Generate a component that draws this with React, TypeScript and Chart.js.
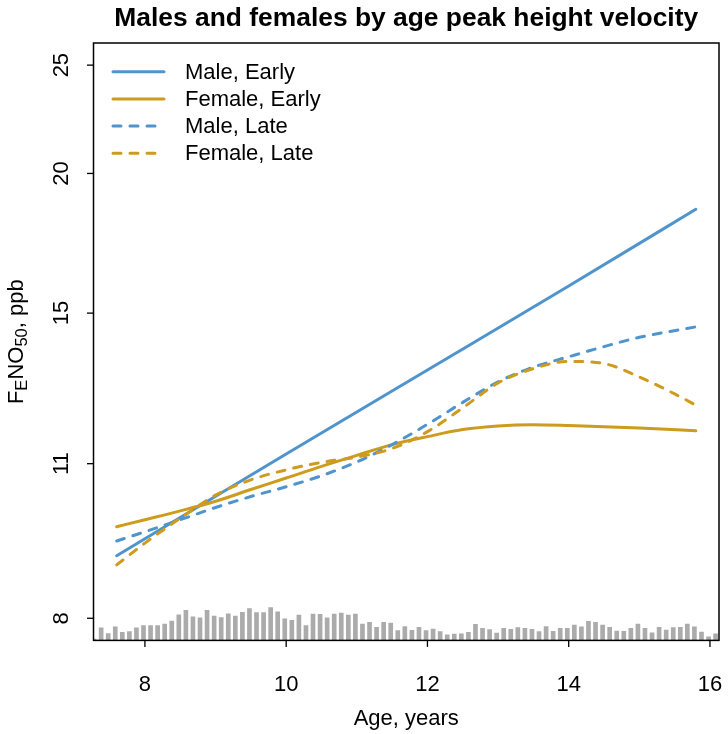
import React, { useEffect, useRef } from 'react';
import { Chart, registerables } from 'chart.js';

Chart.register(...registerables);

// ---------- text ----------
const TITLE = 'Males and females by age peak height velocity';
const X_TITLE = 'Age, years';
const legendLabels = ['Male, Early', 'Female, Early', 'Male, Late', 'Female, Late'];

// ---------- ticks ----------
const xTicks = [8, 10, 12, 14, 16];
const yTicks = [8, 11, 15, 20, 25];

// ---------- curves (age, FeNO50 ppb) ----------
const maleEarlyAge = [7.6, 10, 12, 14, 15.8];
const maleEarlyVal = [9.1, 11.22, 13.34, 15.86, 18.58];

const femaleEarlyAge = [7.6, 8.0, 8.5, 9.0, 9.5, 10, 10.5, 11, 11.5, 12, 12.5, 13, 13.5, 14, 15, 15.8];
const femaleEarlyVal = [9.66, 9.8, 9.98, 10.18, 10.43, 10.68, 10.94, 11.19, 11.44, 11.63, 11.8, 11.89, 11.92, 11.9, 11.84, 11.77];

const maleLateAge = [7.6, 8, 8.5, 9, 9.5, 10, 10.5, 11, 11.5, 12, 12.5, 13, 13.5, 14, 14.5, 15, 15.8];
const maleLateVal = [9.38, 9.56, 9.8, 10.05, 10.28, 10.49, 10.73, 11.04, 11.44, 11.93, 12.48, 13.02, 13.42, 13.71, 14.0, 14.27, 14.58];

const femaleLateAge = [7.6, 8, 8.5, 9, 9.5, 10, 10.5, 11, 11.5, 12, 12.5, 13, 13.5, 14, 14.5, 15, 15.5, 15.8];
const femaleLateVal = [8.93, 9.34, 9.83, 10.31, 10.64, 10.86, 11.03, 11.15, 11.35, 11.75, 12.34, 12.99, 13.38, 13.58, 13.52, 13.15, 12.7, 12.41];

// ---------- age distribution histogram (bin centre, relative count) ----------
const histAge = [
  7.28, 7.38, 7.48, 7.58, 7.68, 7.78, 7.88, 7.98, 8.08, 8.18,
  8.28, 8.38, 8.48, 8.58, 8.68, 8.78, 8.88, 8.98, 9.08, 9.18,
  9.28, 9.38, 9.48, 9.58, 9.68, 9.78, 9.88, 9.98, 10.08, 10.18,
  10.28, 10.38, 10.48, 10.58, 10.68, 10.78, 10.88, 10.98, 11.08, 11.18,
  11.28, 11.38, 11.48, 11.58, 11.68, 11.78, 11.88, 11.98, 12.08, 12.18,
  12.28, 12.38, 12.48, 12.58, 12.68, 12.78, 12.88, 12.98, 13.08, 13.18,
  13.28, 13.38, 13.48, 13.58, 13.68, 13.78, 13.88, 13.98, 14.08, 14.18,
  14.28, 14.38, 14.48, 14.58, 14.68, 14.78, 14.88, 14.98, 15.08, 15.18,
  15.28, 15.38, 15.48, 15.58, 15.68, 15.78, 15.88, 15.98, 16.08,
];
const histCount = [
  1.7, 12.3, 7, 13.3, 8, 8.7, 12.3, 14.7, 14.7, 14.7,
  16, 19, 25, 29.3, 23, 22, 29.3, 23.7, 22.3, 26,
  23.7, 27.3, 31, 27, 27, 32, 27.7, 21, 19.7, 24.7,
  14.7, 25.7, 25.3, 22, 25.7, 26.7, 24.7, 25.7, 16, 17.7,
  13, 17.7, 17, 9.7, 13.7, 10, 13, 9.7, 11.3, 8.7,
  5.7, 6.3, 6.7, 8, 15.7, 12, 10.7, 7.3, 12, 11,
  12.7, 12, 11, 8.7, 13.7, 9, 12, 12, 15, 13.3,
  18.7, 17.7, 15, 13, 9.3, 9, 12, 16, 12, 7.7,
  13, 10.3, 12.7, 13, 16, 13.3, 8.3, 3.7, 6.7,
];

// ---------- style ----------
const BLUE = '#4F94CD';
const GOLD = '#CD9B1D';
const GRAY = '#ABABAB';
const FONT = '"Liberation Sans", Arial, Helvetica, sans-serif';
const W = 728;
const H = 734;
const PAD = { left: 93.5, right: 9, top: 43, bottom: 93.6 };
const DASH = [8, 9];
const LW = 3;

// axis limits: data range extended by 4% on each side
const X_LO = 7.6, X_HI = 15.8;
const X_MIN = X_LO - 0.04 * (X_HI - X_LO);
const X_MAX = X_HI + 0.04 * (X_HI - X_LO);
const lnLo = Math.log(8), lnHi = Math.log(25);
const Y_MIN = Math.exp(lnLo - 0.04 * (lnHi - lnLo));
const Y_MAX = Math.exp(lnHi + 0.04 * (lnHi - lnLo));

const pts = (a: number[], v: number[]) => a.map((x, i) => ({ x, y: v[i] }));

const series = [
  { label: legendLabels[0], age: maleEarlyAge, val: maleEarlyVal, color: BLUE, dashed: false, order: 4 },
  { label: legendLabels[1], age: femaleEarlyAge, val: femaleEarlyVal, color: GOLD, dashed: false, order: 3 },
  { label: legendLabels[2], age: maleLateAge, val: maleLateVal, color: BLUE, dashed: true, order: 2 },
  { label: legendLabels[3], age: femaleLateAge, val: femaleLateVal, color: GOLD, dashed: true, order: 1 },
];

const overlay = {
  id: 'overlay',
  afterDraw(chart: any) {
    const ctx: CanvasRenderingContext2D = chart.ctx;
    const a = chart.chartArea;
    const xs = chart.scales.x;
    const ys = chart.scales.y;
    ctx.save();
    // box
    ctx.strokeStyle = '#000';
    ctx.lineWidth = 1.5;
    ctx.setLineDash([]);
    ctx.strokeRect(a.left, a.top, a.right - a.left, a.bottom - a.top);
    // x ticks
    ctx.lineWidth = 1.3;
    ctx.fillStyle = '#000';
    ctx.font = `22px ${FONT}`;
    ctx.textAlign = 'center';
    ctx.textBaseline = 'alphabetic';
    xTicks.forEach((t) => {
      const px = xs.getPixelForValue(t);
      ctx.beginPath();
      ctx.moveTo(px, a.bottom);
      ctx.lineTo(px, a.bottom + 6.5);
      ctx.stroke();
      ctx.fillText(String(t), px, 691);
    });
    // y ticks
    yTicks.forEach((t) => {
      const py = ys.getPixelForValue(t);
      ctx.beginPath();
      ctx.moveTo(a.left, py);
      ctx.lineTo(a.left - 6.5, py);
      ctx.stroke();
      ctx.save();
      ctx.translate(67.5, py);
      ctx.rotate(-Math.PI / 2);
      ctx.fillText(String(t), 0, 0);
      ctx.restore();
    });
    // x title
    ctx.fillText(X_TITLE, (a.left + a.right) / 2, 725);
    // y title with subscripts
    const segs = [
      { t: 'F', s: 22, dy: 0 },
      { t: 'E', s: 16.5, dy: 3.5 },
      { t: 'NO', s: 22, dy: 0 },
      { t: '50', s: 16.5, dy: 3.5 },
      { t: ', ppb', s: 22, dy: 0 },
    ];
    let total = 0;
    segs.forEach((g) => {
      ctx.font = `${g.s}px ${FONT}`;
      total += ctx.measureText(g.t).width;
    });
    ctx.save();
    ctx.translate(23, (a.top + a.bottom) / 2);
    ctx.rotate(-Math.PI / 2);
    ctx.textAlign = 'left';
    let cx = -total / 2;
    segs.forEach((g) => {
      ctx.font = `${g.s}px ${FONT}`;
      ctx.fillText(g.t, cx, g.dy);
      cx += ctx.measureText(g.t).width;
    });
    ctx.restore();
    // title
    ctx.font = `bold 26.4px ${FONT}`;
    ctx.textAlign = 'center';
    ctx.fillText(TITLE, (a.left + a.right) / 2, 26);
    // legend
    const rowY = [71.7, 98.9, 126.1, 153.3];
    ctx.font = `22px ${FONT}`;
    ctx.textAlign = 'left';
    ctx.textBaseline = 'middle';
    series.forEach((s, i) => {
      ctx.strokeStyle = s.color;
      ctx.lineWidth = LW;
      ctx.lineCap = 'round';
      ctx.setLineDash(s.dashed ? DASH : []);
      ctx.beginPath();
      ctx.moveTo(113, rowY[i]);
      ctx.lineTo(164, rowY[i]);
      ctx.stroke();
      ctx.setLineDash([]);
      ctx.fillStyle = '#000';
      ctx.fillText(s.label, 185, rowY[i] + 1);
    });
    ctx.restore();
  },
};

export default function App() {
  const ref = useRef<HTMLCanvasElement | null>(null);
  useEffect(() => {
    if (!ref.current) return;
    const datasets: any[] = series.map((s) => ({
      type: 'line',
      label: s.label,
      data: pts(s.age, s.val),
      borderColor: s.color,
      backgroundColor: s.color,
      borderWidth: LW,
      borderDash: s.dashed ? DASH : [],
      borderCapStyle: 'round',
      borderJoinStyle: 'round',
      pointRadius: 0,
      fill: false,
      cubicInterpolationMode: 'monotone',
      xAxisID: 'x',
      yAxisID: 'y',
      order: s.order,
    }));
    datasets.push({
      type: 'bar',
      label: 'age distribution',
      data: pts(histAge, histCount),
      backgroundColor: GRAY,
      borderWidth: 0,
      barPercentage: 0.66,
      categoryPercentage: 1,
      xAxisID: 'x',
      yAxisID: 'y2',
      order: 5,
      clip: 0,
    });
    const chart = new Chart(ref.current, {
      type: 'line',
      data: { datasets },
      options: {
        responsive: false,
        animation: false,
        devicePixelRatio: 1,
        layout: { padding: PAD },
        plugins: { legend: { display: false }, tooltip: { enabled: false }, title: { display: false } },
        scales: {
          x: { type: 'linear', display: false, min: X_MIN, max: X_MAX, offset: false, bounds: 'data' },
          y: { type: 'logarithmic', display: false, min: Y_MIN, max: Y_MAX, bounds: 'data' },
          y2: { type: 'linear', display: false, min: 0, max: 575, beginAtZero: true },
        },
      } as any,
      plugins: [overlay],
    } as any);
    return () => chart.destroy();
  }, []);
  return (
    <div style={{ position: 'absolute', left: 0, top: 0, width: W, height: H, background: '#fff' }}>
      <canvas ref={ref} width={W} height={H} style={{ display: 'block' }} />
    </div>
  );
}
